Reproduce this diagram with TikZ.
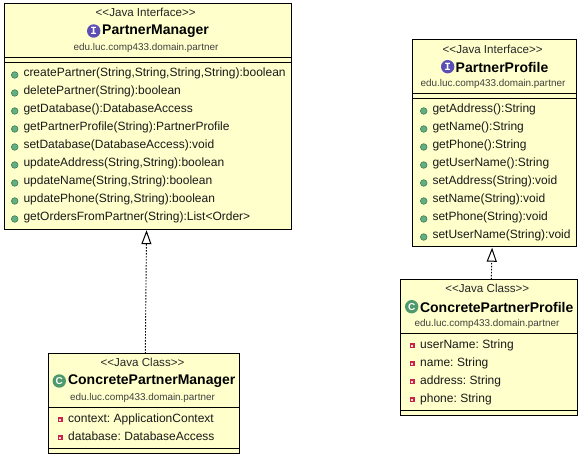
\documentclass[tikz,border=0pt]{standalone}
\usepackage{fontspec}
\setmainfont[Ligatures=NoCommon]{Liberation Sans}
\newfontfamily\glyphmono{Liberation Mono}
\usetikzlibrary{arrows.meta,calc}
\definecolor{boxfill}{HTML}{FFFFCC}
\definecolor{methgreen}{HTML}{64AE7F}
\definecolor{methedge}{HTML}{3E7F5A}
\definecolor{classgreen}{HTML}{4F9A6C}
\definecolor{ifacepurple}{HTML}{5B4FB5}
\definecolor{attred}{HTML}{CC2244}
\newcommand{\tightspace}{\spaceskip=.2em\relax}
\tikzset{
  x=1pt,y=-1pt,
  umlbox/.style={draw=black,fill=boxfill,line width=1pt,inner sep=0pt,outer sep=0pt,anchor=north west},
  sep/.style={black,line width=1pt},
  stereo/.style={font=\fontsize{11.6}{13}\selectfont,inner sep=0pt,text=black!85},
  title/.style={font=\fontsize{14}{16}\selectfont\bfseries,inner sep=0pt,text=black},
  pkg/.style={font=\fontsize{9.9}{11}\selectfont,inner sep=0pt,text=black!75},
  member/.style={font=\fontsize{12}{13}\selectfont,inner sep=0pt,anchor=west,text=black!90,text height=10.5pt,text depth=2.5pt,execute at begin node=\tightspace},
  realize/.style={black,line width=.9pt,dash pattern=on 1.5pt off 1.5pt,shorten >=1pt,-{Triangle[open,length=14pt,width=10pt,line width=1pt,fill=white]}},
  glyph/.style={font=\fontsize{10}{10}\selectfont\bfseries,text=white,inner sep=0pt},
}
\newcommand{\methdot}[2]{\fill[methgreen,draw=methedge,line width=.6pt] (#1,#2) circle (3.3);}
\newcommand{\attsq}[2]{\fill[attred] (#1-2.5,#2-2.5) rectangle (#1+2.5,#2+2.5);\fill[white!85!attred] (#1-1,#2-1) rectangle (#1+1,#2+1);}
\newcommand{\ifaceicon}[3]{\fill[ifacepurple] (#1,#2) circle (6.7);\node[glyph,font=\fontsize{11}{11}\selectfont\bfseries\glyphmono,name=#3] at (#1,#2) {I};}
\newcommand{\classicon}[3]{\fill[classgreen] (#1,#2) circle (6.7);\node[glyph,name=#3] at (#1,#2) {C};}
\begin{document}
\begin{tikzpicture}
\useasboundingbox (0,0) rectangle (581,457);
% PartnerManager
\node[umlbox,minimum width=287.5pt,minimum height=225.5pt] (pm) at (4,3.7) {};
\draw[sep] (pm.west |- 0,57.3) -- (pm.east |- 0,57.3);
\draw[sep] (pm.west |- 0,62.5) -- (pm.east |- 0,62.5);
\node[stereo] (pm1) at (145.7,12.7) {{<}{<}Java Interface{>}{>}};
\ifaceicon{93.7}{31}{pmi}
\node[title] (pm2) at (155.5,31.3) {PartnerManager};
\node[pkg] (pm3) at (146,48) {edu.luc.comp433.domain.partner};
\foreach \y/\t [count=\i] in {73/{createPartner(String,String,String,String):boolean},91/{deletePartner(String):boolean},109/{getDatabase():DatabaseAccess},127/{getPartnerProfile(String):PartnerProfile},145/{setDatabase(DatabaseAccess):void},163/{updateAddress(String,String):boolean},181/{updateName(String,String):boolean},199/{updatePhone(String,String):boolean},217/{getOrdersFromPartner(String):List<Order>}}{
  \methdot{14.7}{\y+2}
  \node[member,name=pmm\i] at (23.3,\y) {\t};
}
% ConcretePartnerManager
\node[umlbox,minimum width=191pt,minimum height=99.3pt] (cpm) at (48.3,353.7) {};
\draw[sep] (cpm.west |- 0,407.3) -- (cpm.east |- 0,407.3);
\draw[sep] (cpm.west |- 0,448.3) -- (cpm.east |- 0,448.3);
\node[stereo] (cpm1) at (142.5,362.7) {{<}{<}Java Class{>}{>}};
\classicon{59.3}{381}{cpmi}
\node[title] (cpm2) at (151.7,381.3) {ConcretePartnerManager};
\node[pkg] (cpm3) at (142.5,397.7) {edu.luc.comp433.domain.partner};
\foreach \y/\t [count=\i] in {418/{context: ApplicationContext},436/{database: DatabaseAccess}}{
  \attsq{60.3}{\y+1.5}
  \node[member,name=cpmm\i] at (68,\y) {\t};
}
% PartnerProfile
\node[umlbox,minimum width=164pt,minimum height=207.4pt] (pp) at (412.3,39.3) {};
\draw[sep] (pp.west |- 0,93.3) -- (pp.east |- 0,93.3);
\draw[sep] (pp.west |- 0,98.3) -- (pp.east |- 0,98.3);
\node[stereo] (pp1) at (492.7,49) {{<}{<}Java Interface{>}{>}};
\ifaceicon{447.7}{66.7}{ppi}
\node[title] (pp2) at (502,67) {PartnerProfile};
\node[pkg] (pp3) at (493,84) {edu.luc.comp433.domain.partner};
\foreach \y/\t [count=\i] in {109/{getAddress():String},127/{getName():String},145/{getPhone():String},163/{getUserName():String},181/{setAddress(String):void},199/{setName(String):void},217/{setPhone(String):void},235/{setUserName(String):void}}{
  \methdot{423.7}{\y+2}
  \node[member,name=ppm\i] at (432.3,\y) {\t};
}
% ConcretePartnerProfile
\node[umlbox,minimum width=176.6pt,minimum height=136pt] (cpp) at (400.7,279.3) {};
\draw[sep] (cpp.west |- 0,333.7) -- (cpp.east |- 0,333.7);
\draw[sep] (cpp.west |- 0,410) -- (cpp.east |- 0,410);
\node[stereo] (cpp1) at (487.3,288.3) {{<}{<}Java Class{>}{>}};
\classicon{411.7}{306.7}{cppi}
\node[title] (cpp2) at (496.7,307) {ConcretePartnerProfile};
\node[pkg] (cpp3) at (487,324) {edu.luc.comp433.domain.partner};
\foreach \y/\t [count=\i] in {344/{userName: String},362/{name: String},380/{address: String},398/{phone: String}}{
  \attsq{412.3}{\y+1.5}
  \node[member,name=cppm\i] at (420,\y) {\t};
}
% realizations
\draw[realize] ($(cpm.north)+(1.5,0)$) -- ($(pm.south)+(-1.2,0)$);
\draw[realize] ($(cpp.north)+(2.3,0)$) -- ($(pp.south)+(-2.2,0)$);
\end{tikzpicture}
\end{document}
